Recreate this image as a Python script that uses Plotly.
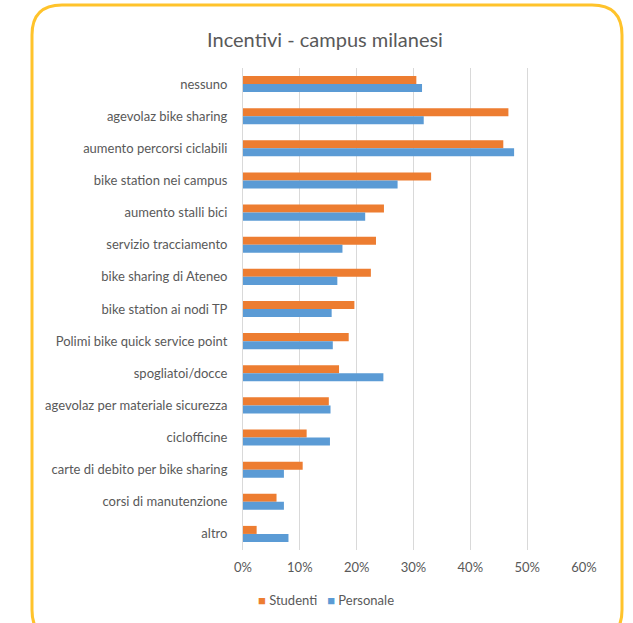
import plotly.graph_objects as go

categories = [
    "nessuno", "agevolaz bike sharing", "aumento percorsi ciclabili",
    "bike station nei campus", "aumento stalli bici", "servizio tracciamento",
    "bike sharing di Ateneo", "bike station ai nodi TP",
    "Polimi bike quick service point", "spogliatoi/docce",
    "agevolaz per materiale sicurezza", "ciclofficine",
    "carte di debito per bike sharing", "corsi di manutenzione", "altro",
]
studenti = [30.5, 46.7, 45.8, 33.1, 24.8, 23.4, 22.5, 19.6, 18.6, 16.9, 15.1, 11.2, 10.5, 5.9, 2.4]
personale = [31.5, 31.8, 47.7, 27.2, 21.5, 17.5, 16.6, 15.6, 15.8, 24.7, 15.4, 15.3, 7.2, 7.2, 8.0]
tick_vals = [0, 10, 20, 30, 40, 50, 60]
tick_text = ["0%", "10%", "20%", "30%", "40%", "50%", "60%"]
series_names = ["Studenti", "Personale"]
series_colors = ["#ED7D31", "#5B9BD5"]

W, H = 633, 623
L, R, T, B = 243, 49, 68, 73
pw, ph = W - L - R, H - T - B

def px(x):
    return (x - L) / pw

def py(y):
    return (H - B - y) / ph

font = "Lato, 'Open Sans', sans-serif"
fig = go.Figure()
fig.add_trace(go.Bar(y=categories, x=studenti, name=series_names[0], orientation="h",
                     marker=dict(color=series_colors[0], line=dict(width=0))))
fig.add_trace(go.Bar(y=categories, x=personale, name=series_names[1], orientation="h",
                     marker=dict(color=series_colors[1], line=dict(width=0))))

# rounded border (bottom edge lies just below the visible area)
x0, x1, y0, y1, r = 32, 622, 5, 640, 30
path = (f"M {px(x0+r)},{py(y0)} L {px(x1-r)},{py(y0)} Q {px(x1)},{py(y0)} {px(x1)},{py(y0+r)} "
        f"L {px(x1)},{py(y1-r)} Q {px(x1)},{py(y1)} {px(x1-r)},{py(y1)} "
        f"L {px(x0+r)},{py(y1)} Q {px(x0)},{py(y1)} {px(x0)},{py(y1-r)} "
        f"L {px(x0)},{py(y0+r)} Q {px(x0)},{py(y0)} {px(x0+r)},{py(y0)} Z")

legend_text = "&nbsp;&nbsp;&nbsp;".join(
    f"<span style='color:{c}'>■</span> {n}" for n, c in zip(series_names, series_colors)
)

fig.update_layout(
    width=W, height=H,
    margin=dict(l=L, r=R, t=T, b=B),
    paper_bgcolor="white", plot_bgcolor="white",
    barmode="group", bargap=0.5, bargroupgap=0,
    showlegend=False,
    title=dict(text="Incentivi - campus milanesi", x=px(325), xref="paper",
               xanchor="center", y=1 - 40 / H, yanchor="middle",
               font=dict(family=font, size=20, color="#595959")),
    font=dict(family=font, size=13, color="#595959"),
    xaxis=dict(range=[0, 60], tickvals=tick_vals, ticktext=tick_text,
               showgrid=True, gridcolor="#D9D9D9", gridwidth=1,
               zeroline=False, showline=False, ticks="", ticklabelstandoff=8,
               tickfont=dict(family=font, size=13, color="#595959")),
    yaxis=dict(autorange="reversed", showgrid=False, zeroline=False,
               showline=True, linecolor="#D9D9D9", linewidth=1, ticks="",
               ticklabelstandoff=12,
               tickfont=dict(family=font, size=13, color="#595959")),
    annotations=[dict(text=legend_text, xref="paper", yref="paper",
                      x=px(326), y=py(600), xanchor="center", yanchor="middle",
                      showarrow=False, font=dict(family=font, size=13, color="#595959"))],
    shapes=[dict(type="path", path=path, xref="paper", yref="paper",
                 line=dict(color="#FFC32B", width=3), layer="above")],
)

fig.write_html("out.html",
               config={"displayModeBar": False, "staticPlot": True},
               post_script="document.body.style.margin='0';document.body.style.overflow='hidden';")
